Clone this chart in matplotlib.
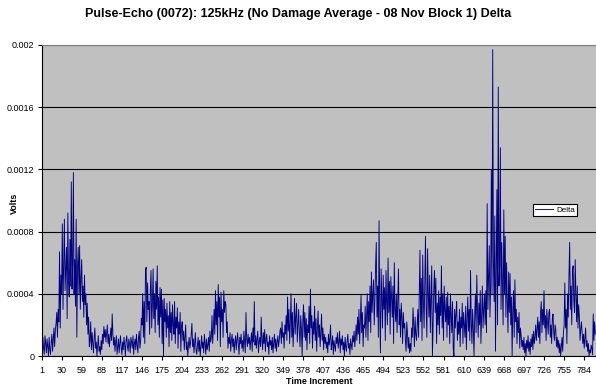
import numpy as np
import matplotlib
matplotlib.use("Agg")
import matplotlib.pyplot as plt

plt.rcParams['font.family'] = ['Liberation Sans', 'DejaVu Sans']

# signal, in units of 1e-5 V, split by region (sample index in comments)
quiet_start = [9, 3, 12, 5, 1, 13, 8, 2, 11, 6, 0, 12, 4, 1, 9, 14, 3, 10, 18, 6, 17, 21]  # 1-22
burst_1 = [28, 12, 30, 22, 67, 18, 52, 40, 85, 30, 60, 88, 42, 55, 70, 24, 92, 48, 38, 75,
           45, 112, 43, 60, 118, 40, 62, 32, 88, 12, 58, 70, 40, 71, 30, 50, 62, 35, 45, 25,
           52, 33, 40, 20, 34, 14, 25, 6]  # 23-70
quiet_1 = [10, 22, 4, 15, 8, 2, 12, 18, 5, 9, 0, 7, 13, 3, 6, 1, 10, 4, 14, 8,
           19, 12, 17, 9, 15, 20, 8, 14, 6, 12, 18, 10, 27, 14, 7, 12, 3, 9, 13, 1,
           6, 11, 2, 8, 13, 5, 1, 9, 4, 12, 7, 0, 10, 13, 6, 3, 11, 8, 2, 12,
           9, 5, 13, 1, 8, 11, 4, 14, 7, 2, 12, 16, 5, 10, 24]  # 71-145
burst_2 = [20, 40, 12, 35, 8, 55, 57, 22, 47, 30, 35, 14, 42, 55, 18, 33, 56, 24, 40, 15,
           48, 30, 58, 20, 38, 12, 44, 25, 43, 8, 36, 0, 37, 22, 30, 12, 34, 18, 26, 6,
           35, 15, 28, 10, 33, 20, 14, 35, 8, 25, 18, 31, 5, 22, 14, 28, 3, 19, 22, 10,
           16, 4, 12, 20, 4, 9, 0, 7, 12, 5]  # 146-215
quiet_2 = [8, 14, 21, 6, 11, 2, 9, 15, 4, 1, 7, 12, 3, 10, 0, 6, 13, 5, 9, 2,
           14, 8, 1, 11, 4, 7, 12, 3, 16, 9]  # 216-245
burst_3 = [12, 26, 8, 18, 30, 14, 42, 20, 35, 10, 46, 25, 38, 6, 41, 22, 30, 12, 42, 28,
           35, 33, 15, 22, 5, 12, 8, 15, 3, 10]  # 246-275
quiet_3 = [14, 6, 11, 2, 9, 13, 4, 10, 15, 7, 1, 12, 8, 14, 5, 10, 3, 16, 9, 2,
           28, 11, 6, 14, 8, 12, 4, 10, 15, 3, 18, 9, 35, 7, 13, 5, 11, 16, 2, 9,
           12, 6, 25, 10, 4, 15, 8, 17, 3, 11, 14, 6, 9, 1, 13, 7, 10, 4, 12, 2,
           8, 14, 5, 11, 3, 9, 13, 6, 10, 16]  # 276-345
burst_4 = [18, 8, 22, 12, 15, 5, 20, 14, 26, 10, 38, 16, 30, 8, 22, 40, 12, 28, 6, 18,
           37, 14, 25, 34, 9, 20, 30, 15, 6, 26, 18, 0, 22, 33, 12, 28, 10, 24, 4, 20,
           15, 32, 8, 43, 18, 26, 5, 22, 14, 32, 10, 24, 3, 18, 29, 12, 20, 6, 15, 27,
           10, 18, 4, 14, 8]  # 346-410
quiet_4 = [12, 5, 9, 2, 14, 7, 11, 20, 4, 8, 13, 1, 10, 6, 3, 12, 8, 15, 5, 9,
           16, 2, 11, 7, 13, 4, 9, 0, 12, 6, 3, 10, 14, 5, 8, 1, 11, 7, 4, 13,
           9, 16, 6, 12, 20]  # 411-455
burst_5 = [10, 25, 14, 30, 8, 22, 39, 15, 28, 6, 20, 18, 32, 12, 26, 40, 10, 35, 22, 45,
           15, 54, 28, 40, 49, 20, 36, 58, 73, 25, 45, 12, 87, 30, 2, 56, 38, 18, 52, 30,
           44, 10, 55, 35, 20, 63, 28, 48, 14, 51, 38, 25, 45, 8, 60, 30, 22, 40, 15, 35,
           56, 20, 30, 12, 34, 25, 8, 28, 18, 21, 10, 3, 22, 15, 5, 12, 2, 8, 3, 18,
           12, 31, 20, 6, 25, 14, 10, 20, 30, 12]  # 456-545
burst_6 = [40, 68, 22, 50, 10, 65, 35, 18, 48, 77, 30, 12, 69, 40, 25, 52, 15, 36, 58, 0,
           20, 44, 55, 28, 50, 8, 34, 20, 42, 14, 38, 26, 58, 18, 40, 10, 45, 30, 22, 38,
           12, 41, 20, 32, 8, 40, 26, 15, 35, 5, 0, 30, 18, 28, 35, 10, 22, 14, 30, 6,
           25, 18, 34, 8, 28, 20, 12, 32, 4, 24, 38, 16, 30, 10, 55, 22, 8, 30, 18, 0,
           26, 40, 15, 52, 30, 12, 34, 20, 42, 8, 28, 45, 18, 30, 40]  # 546-640
burst_main = [20, 42, 15, 98, 30, 50, 71, 25, 45, 120, 40, 197, 60, 35, 90, 3, 55, 107, 20, 173,
              45, 58, 134, 30, 73, 48, 20, 94, 40, 77, 25, 60, 35, 15, 54, 28, 53, 20, 38, 0,
              30, 42, 12, 49, 22, 30, 8, 25, 15, 28, 5, 18, 13, 6, 10]  # 641-695
burst_7 = [4, 12, 2, 8, 0, 10, 5, 13, 3, 9, 1, 11, 6, 14, 4, 16, 8, 12, 20, 10,
           18, 25, 12, 22, 8, 28, 35, 15, 30, 20, 42, 18, 26, 10, 30, 22, 14, 28, 30, 12,
           20, 8, 24, 27, 15, 10, 20, 17, 6, 12]  # 696-745
burst_8 = [5, 10, 2, 8, 0, 6, 12, 3, 15, 20, 47, 18, 30, 8, 40, 25, 52, 73, 30, 45,
           20, 55, 58, 35, 28, 62, 40, 22, 45, 18, 33, 25, 10, 17, 22, 15, 8, 14, 5, 12,
           18, 6, 10, 3, 8, 0, 4, 2, 7, 5, 1, 27, 10, 22, 14]  # 746-800

delta = np.concatenate([quiet_start, burst_1, quiet_1, burst_2, quiet_2, burst_3, quiet_3,
                        burst_4, quiet_4, burst_5, burst_6, burst_main, burst_7, burst_8]) * 1e-5
steps = np.arange(1, len(delta) + 1)

y_ticks = [0, 0.0004, 0.0008, 0.0012, 0.0016, 0.002]
y_labels = ['0', '0.0004', '0.0008', '0.0012', '0.0016', '0.002']

fig = plt.figure(figsize=(5.96, 3.90), dpi=100)
ax = fig.add_axes([41.5 / 596, 34 / 390, (596 - 41.5) / 596, 311 / 390])
ax.set_facecolor('#C0C0C0')

ax.plot(steps, delta, color='#000080', linewidth=0.65, label='Delta')

ax.set_xlim(1, 801)
ax.set_ylim(0, 0.002)
ax.set_xticks(steps[::29])
ax.set_xticklabels([str(s) for s in steps[::29]])
ax.set_yticks(y_ticks)
ax.set_yticklabels(y_labels)
ax.tick_params(labelsize=6.5, length=3, width=0.8, color='black', pad=2)
ax.tick_params(axis='x', pad=4)
ax.grid(axis='y', color='black', linewidth=0.8)
ax.set_axisbelow(True)

ax.spines['right'].set_visible(False)
ax.spines['top'].set_color('#808080')
ax.spines['left'].set_linewidth(0.8)
ax.spines['bottom'].set_linewidth(0.8)

ax.set_xlabel('Time Increment', fontsize=6.4, fontweight='bold', labelpad=2)
fig.text(14 / 596, 1 - 203 / 390, 'Volts', rotation=90, ha='center', va='center',
         fontsize=6.4, fontweight='bold')
fig.text(0.5, 1 - 14 / 390,
         'Pulse-Echo (0072): 125kHz (No Damage Average - 08 Nov Block 1) Delta',
         ha='center', va='center', fontsize=9, fontweight='bold')

leg = ax.legend(loc='center', bbox_to_anchor=(555 / 596, 1 - 210 / 390),
                bbox_transform=fig.transFigure, fontsize=5.8, frameon=True,
                fancybox=False, handlelength=2.2, borderpad=0.3, handletextpad=0.4)
leg.get_frame().set_edgecolor('black')
leg.get_frame().set_linewidth(0.8)
leg.get_frame().set_facecolor('white')
leg.get_frame().set_alpha(1)

fig.savefig('out.png', dpi=100)
